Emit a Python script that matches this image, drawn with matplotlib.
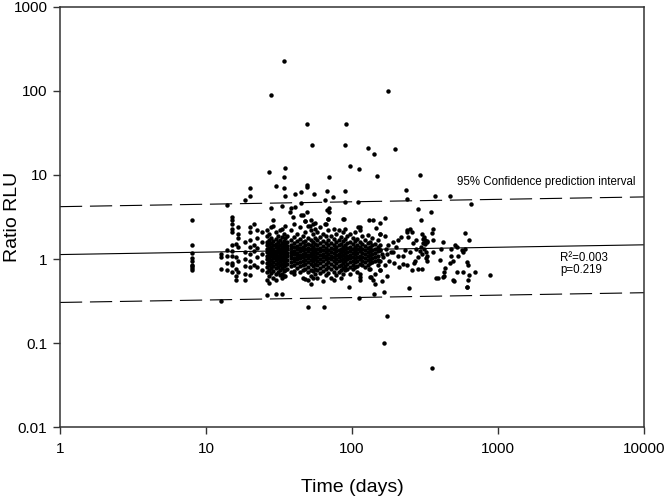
import numpy as np
import matplotlib
matplotlib.use("Agg")
import matplotlib.pyplot as plt

plt.rcParams['font.family'] = ['Liberation Sans', 'DejaVu Sans']

# early columns (days, ratios measured that day)
early_days = [8, 12.7, 14, 15, 16, 16.7, 18.4, 20, 21.3, 22.5, 24.2]
early_ratio = [
    [2.95, 1.45, 1.19, 1.04, 0.94, 0.86, 0.82, 0.78, 0.75],
    [1.16, 1.05, 0.77, 0.32],
    [4.4, 1.27, 1.1, 0.9, 0.73],
    [3.2, 2.9, 2.6, 2.3, 2.1, 1.45, 1.25, 1.1, 0.9, 0.85, 0.7],
    [1.5, 1.05, 0.76, 0.56, 0.63],
    [2.4, 2.0, 1.8, 1.4, 0.95, 0.7],
    [5.0, 1.6, 1.2, 1.0, 0.82, 0.66, 0.56],
    [7.0, 5.7, 2.4, 2.1, 1.7, 1.4, 1.15, 0.95, 0.8, 0.65],
    [2.6, 1.45, 1.25, 0.85],
    [2.2, 1.8, 1.35, 1.05, 0.8],
    [2.1, 1.6, 1.15, 0.92, 0.75],
]

# dense part of the cloud
core_days = [26, 27, 28, 29, 30, 31, 32, 33, 34, 35, 36, 38, 40, 42, 44, 46,
             48, 50, 52, 54, 56, 58, 60, 63, 66, 69, 72, 75, 78, 81, 84, 87,
             90, 93, 97, 101, 105, 109, 113, 118, 123, 128, 133, 138, 144,
             150, 156]
core_ratio = [
    [2.2, 1.9, 1.6, 1.45, 1.3, 1.2, 1.1, 1.0, 0.9, 0.8, 0.7, 0.56],
    [2.0, 1.7, 1.5, 1.35, 1.25, 1.15, 1.05, 0.95, 0.85, 0.75, 0.62, 0.52],
    [2.4, 1.8, 1.55, 1.4, 1.28, 1.18, 1.08, 0.98, 0.88, 0.78, 0.68],
    [2.9, 2.5, 1.65, 1.45, 1.32, 1.2, 1.12, 1.02, 0.92, 0.83, 0.72, 0.6],
    [2.1, 1.75, 1.5, 1.38, 1.25, 1.15, 1.05, 0.97, 0.88, 0.78, 0.66, 0.56],
    [1.9, 1.6, 1.42, 1.3, 1.2, 1.1, 1.0, 0.9, 0.8, 0.7],
    [2.2, 1.7, 1.48, 1.33, 1.22, 1.12, 1.02, 0.94, 0.84, 0.74, 0.64],
    [2.3, 1.85, 1.55, 1.4, 1.28, 1.17, 1.07, 0.98, 0.88, 0.78, 0.67, 0.6],
    [2.0, 1.65, 1.45, 1.32, 1.21, 1.11, 1.01, 0.92, 0.82, 0.72, 0.62],
    [2.5, 1.8, 1.52, 1.38, 1.26, 1.15, 1.05, 0.95, 0.85, 0.75, 0.63],
    [1.9, 1.6, 1.42, 1.3, 1.18, 1.08, 0.98, 0.88, 0.77],
    [2.2, 1.7, 1.48, 1.34, 1.22, 1.12, 1.02, 0.92, 0.82, 0.7],
    [2.6, 1.85, 1.55, 1.38, 1.25, 1.14, 1.04, 0.94, 0.84, 0.72, 0.67],
    [2.0, 1.62, 1.44, 1.3, 1.19, 1.09, 0.99, 0.89, 0.78],
    [2.4, 1.75, 1.5, 1.36, 1.24, 1.13, 1.03, 0.93, 0.83, 0.71],
    [3.3, 1.9, 1.58, 1.4, 1.27, 1.16, 1.06, 0.96, 0.86, 0.75, 0.6],
    [2.8, 2.1, 1.65, 1.45, 1.3, 1.18, 1.08, 0.98, 0.87, 0.76, 0.58],
    [2.5, 1.8, 1.52, 1.37, 1.24, 1.13, 1.03, 0.92, 0.81, 0.7, 0.56],
    [2.9, 2.2, 1.7, 1.46, 1.31, 1.19, 1.08, 0.98, 0.87, 0.75, 0.62, 0.51],
    [2.6, 2.0, 1.6, 1.4, 1.26, 1.14, 1.04, 0.94, 0.83, 0.72, 0.6],
    [2.7, 2.3, 1.8, 1.5, 1.33, 1.2, 1.09, 0.99, 0.88, 0.77, 0.66],
    [2.1, 1.7, 1.45, 1.3, 1.17, 1.06, 0.96, 0.85, 0.73, 0.6],
    [2.4, 1.85, 1.55, 1.36, 1.23, 1.12, 1.01, 0.9, 0.79, 0.68],
    [2.0, 1.65, 1.42, 1.28, 1.16, 1.05, 0.94, 0.83, 0.72, 0.55],
    [2.6, 1.9, 1.55, 1.36, 1.22, 1.1, 0.99, 0.88, 0.76, 0.64],
    [3.0, 2.2, 1.7, 1.45, 1.28, 1.15, 1.04, 0.93, 0.81, 0.69],
    [1.9, 1.55, 1.36, 1.22, 1.1, 0.99, 0.88, 0.76, 0.6],
    [2.3, 1.75, 1.48, 1.31, 1.18, 1.06, 0.95, 0.83, 0.7, 0.56],
    [2.0, 1.6, 1.4, 1.25, 1.12, 1.01, 0.9, 0.78, 0.65],
    [2.2, 1.7, 1.45, 1.29, 1.16, 1.05, 0.94, 0.82, 0.7],
    [1.85, 1.5, 1.33, 1.2, 1.08, 0.97, 0.86, 0.74, 0.6],
    [3.0, 2.1, 1.62, 1.4, 1.25, 1.12, 1.01, 0.9, 0.78, 0.66],
    [2.3, 1.75, 1.45, 1.3, 1.17, 1.05, 0.94, 0.82, 0.73],
    [1.9, 1.55, 1.36, 1.22, 1.1, 0.99, 0.88, 0.76],
    [2.0, 1.6, 1.4, 1.25, 1.13, 1.02, 0.91, 0.8, 0.67],
    [1.8, 1.5, 1.32, 1.19, 1.07, 0.96, 0.85, 0.77],
    [2.1, 1.65, 1.4, 1.26, 1.14, 1.03, 0.92, 0.8],
    [1.75, 1.45, 1.3, 1.17, 1.05, 0.94, 0.83, 0.7],
    [2.4, 2.2, 1.6, 1.38, 1.23, 1.1, 0.99, 0.88, 0.66, 0.61, 0.56],
    [1.9, 1.5, 1.32, 1.18, 1.06, 0.95, 0.84],
    [1.7, 1.42, 1.27, 1.14, 1.02, 0.91, 0.8],
    [1.95, 1.55, 1.35, 1.2, 1.08, 0.97, 0.86],
    [1.6, 1.38, 1.24, 1.11, 1.0, 0.89, 0.77, 0.61],
    [1.8, 1.45, 1.28, 1.15, 1.03, 0.92],
    [1.5, 1.3, 1.17, 1.05, 0.94, 0.67, 0.51],
    [1.7, 1.4, 1.24, 1.1, 0.98, 0.86],
    [2.0, 1.45, 1.27, 0.96, 0.73],
]

# single points: outliers and the sparse tail (days, ratio)
loose_points = [
    (34, 230), (28, 89), (177, 100), (49, 41), (91, 41), (53, 22.5), (90, 23),
    (128, 21), (142, 18), (197, 20.5), (97, 12.8), (111, 11.8), (35, 12),
    (27, 11), (292, 10), (149, 9.6), (70, 9.5), (34, 9.5), (30, 7.4), (34, 7.0),
    (49, 7.6), (49, 7.2), (45, 6.3), (41, 6.0), (55, 6.0), (35, 5.6), (67, 6.4),
    (74, 5.5), (65, 5.1), (90, 6.4), (89, 4.8), (110, 4.8), (236, 6.6),
    (238, 5.2), (370, 5.6), (467, 5.7), (650, 4.5), (28, 4.0), (33, 4.3),
    (38, 4.0), (41, 4.2), (45, 4.6), (70, 4.0), (70, 3.6), (281, 3.9),
    (350, 3.6), (167, 3.1), (131, 2.9), (140, 2.9), (155, 2.7), (299, 2.9),
    (358, 2.25), (355, 2.05), (250, 2.3), (240, 2.1),
    (355, 0.05), (166, 0.1), (173, 0.21), (50, 0.27), (64, 0.27), (26, 0.37),
    (30, 0.38), (33, 0.38), (111, 0.34), (141, 0.38), (166, 0.41), (245, 0.45),
    (96, 0.46), (610, 0.46), (880, 0.64), (700, 0.71), (390, 0.6), (425, 0.62),
    (500, 0.55),
    (37.6, 3.6), (39.6, 3.2), (45, 3.3), (47.5, 2.8), (49, 3.6), (51.5, 2.5),
    (67, 3.8), (69, 3.0), (65, 2.6), (87.5, 3.0), (110, 2.4), (147, 2.37),
    (155, 2.0), (168, 1.9), (190, 1.6), (207, 1.67), (218, 1.83), (237, 2.2),
    (256, 2.1), (243, 1.83), (263, 1.53), (275, 1.67), (231, 1.27), (250, 1.21),
    (275, 1.33), (270, 0.96), (256, 0.73), (282, 0.77), (224, 1.1), (207, 1.1),
    (190, 1.21), (177, 1.45), (173, 1.16), (164, 1.06), (155, 1.27), (154, 0.96),
    (168, 0.84), (155, 0.73), (136, 0.61), (131, 0.77), (140, 0.56),
    (300, 2.0), (310, 1.85), (318, 1.7), (325, 1.6), (305, 1.55), (315, 1.5),
    (328, 1.65), (357, 1.67), (422, 1.59), (507, 1.45), (594, 2.04), (635, 1.7),
    (563, 1.27), (576, 1.21), (594, 1.33), (520, 1.39), (480, 1.33), (410, 1.33),
    (359, 1.21), (324, 1.1), (300, 1.16), (328, 0.96), (322, 1.04), (400, 0.98),
    (480, 1.08), (495, 0.94), (470, 0.9), (610, 0.92), (625, 0.84), (535, 1.08),
    (433, 0.78), (425, 0.7), (303, 0.77), (525, 0.7), (580, 0.7), (635, 0.64),
    (375, 0.59), (420, 0.61), (495, 0.56), (625, 0.56), (617, 0.46),
    (225, 0.88), (240, 0.85), (265, 0.9), (285, 1.05), (290, 1.25), (296, 1.4),
    (305, 1.75), (312, 1.3), (320, 1.2), (170, 1.3), (180, 0.95), (185, 1.2),
    (195, 0.9), (160, 1.15), (200, 1.4), (210, 0.8), (175, 0.62), (160, 0.55),
]

# log-log regression (log10 units)
fit_intercept = 0.053
fit_slope = 0.029
band_half_width = 0.57
r2_text = "R\u00b2=0.003"
p_text = "p=0.219"

x_ticks = [1, 10, 100, 1000, 10000]
x_tick_labels = ["1", "10", "100", "1000", "10000"]
y_ticks = [0.01, 0.1, 1, 10, 100, 1000]
y_tick_labels = ["0.01", "0.1", "1", "10", "100", "1000"]

days = []
ratio = []
for d, col in zip(early_days + core_days, early_ratio + core_ratio):
    days += [d] * len(col)
    ratio += col
for d, r in loose_points:
    days.append(d)
    ratio.append(r)

fig = plt.figure(figsize=(6.66, 4.96), dpi=100)
ax = fig.add_axes([0.090, 0.139, 0.877, 0.847])

ax.plot(days, ratio, 'o', color='black', ms=3.2, mew=0, zorder=3)

xx = np.logspace(0, 4, 50)
fit = fit_intercept + fit_slope * np.log10(xx)
ax.plot(xx, 10 ** fit, color='black', lw=0.8)
ax.plot(xx, 10 ** (fit + band_half_width), color='black', lw=0.8, dashes=(20, 7))
ax.plot(xx, 10 ** (fit - band_half_width), color='black', lw=0.8, dashes=(20, 7))

ax.set_xscale('log')
ax.set_yscale('log')
ax.set_xlim(1, 10000)
ax.set_ylim(0.01, 1000)
ax.set_xticks(x_ticks, x_tick_labels)
ax.set_yticks(y_ticks, y_tick_labels)
ax.minorticks_off()
ax.tick_params(labelsize=11, length=5, width=1, color='#333333', pad=4)
ax.tick_params(axis='x', pad=6)

for s in ax.spines.values():
    s.set_color('#333333')
    s.set_linewidth(1.1)

ax.text(520, 8.2, "95% Confidence prediction interval", fontsize=8.3, va='center')
ax.text(2650, 1.02, r2_text, fontsize=8.3, va='center')
ax.text(2650, 0.73, p_text, fontsize=8.3, va='center')

ax.set_xlabel("Time (days)", fontsize=14, labelpad=16)
ax.set_ylabel("Ratio RLU", fontsize=14)
ax.yaxis.set_label_coords(-0.067, 0.5)

fig.savefig("out.png", dpi=100)
